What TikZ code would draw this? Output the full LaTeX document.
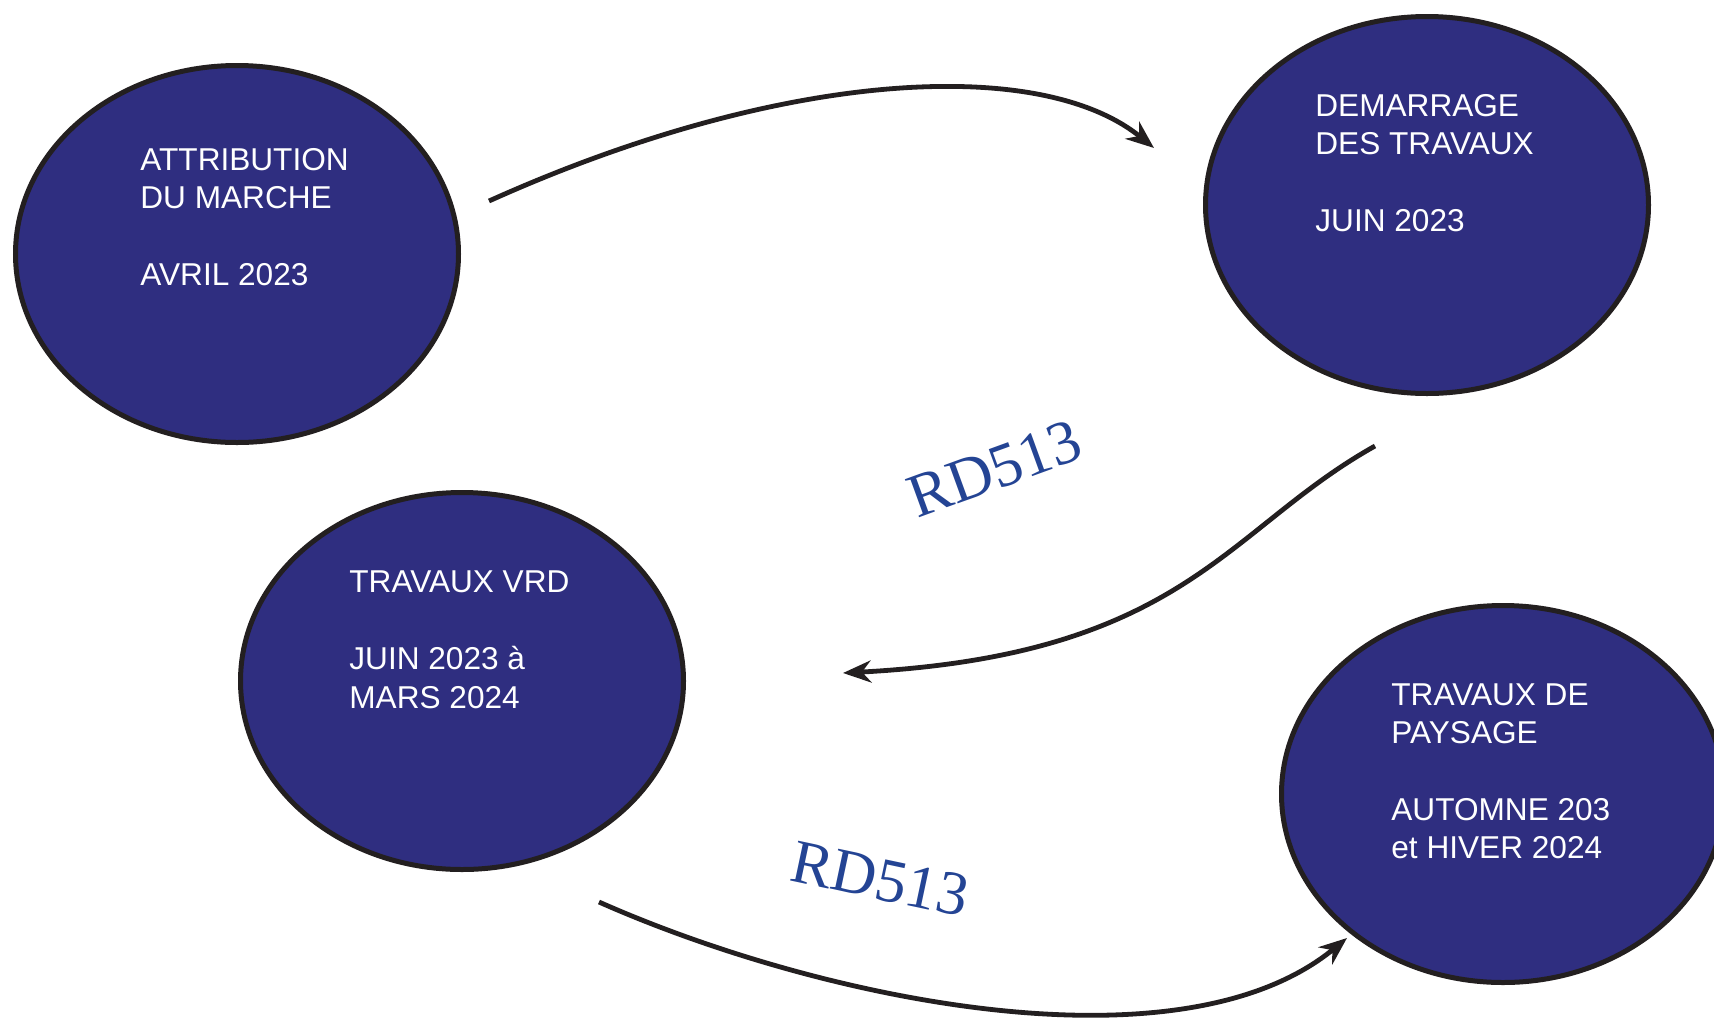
\documentclass[tikz,border=0pt]{standalone}
\usepackage{fontspec}
\setmainfont{Liberation Sans}
\newfontfamily\rdfont{Liberation Serif}
\usetikzlibrary{shapes.geometric,arrows.meta}
\definecolor{bubblefill}{RGB}{47,46,128}
\definecolor{edgeblack}{RGB}{35,31,32}
\definecolor{rdblue}{RGB}{36,68,148}
\begin{document}
\begin{tikzpicture}[x=0.5pt,y=-0.5pt,
  bubble/.style={ellipse,draw=edgeblack,line width=2.5pt,fill=bubblefill,
    minimum width=221.5pt,minimum height=188.5pt,inner sep=0pt},
  txt/.style={anchor=base west,inner sep=0pt,text=white,
    font=\fontsize{15.8pt}{19pt}\selectfont},
  rd/.style={text=rdblue,font=\rdfont\fontsize{31pt}{31pt}\selectfont,inner sep=0pt},
  flow/.style={draw=edgeblack,line width=2.4pt,
    -{Stealth[length=14pt,width=11pt,inset=4.5pt]}}]
\useasboundingbox (0,0) rectangle (1714,1024);
\clip (0,0) rectangle (1714,1024);
\fill[white] (0,0) rectangle (1714,1024);

% bubbles
\node[bubble] (e1) at (237,254) {};
\node[bubble] (e2) at (1427,205) {};
\node[bubble] (e3) at (462,681) {};
\node[bubble] (e4) at (1503,794) {};

% texts
\node[txt] (t1a) at (140,170) {ATTRIBUTION};
\node[txt] (t1b) at (140,208) {DU MARCHE};
\node[txt] (t1c) at (140,285) {AVRIL 2023};

\node[txt] (t2a) at (1315,116) {DEMARRAGE};
\node[txt] (t2b) at (1315,154) {DES TRAVAUX};
\node[txt] (t2c) at (1315,231) {JUIN 2023};

\node[txt] (t3a) at (349,592) {TRAVAUX VRD};
\node[txt] (t3b) at (349,669) {JUIN 2023 à};
\node[txt] (t3c) at (349,708) {MARS 2024};

\node[txt] (t4a) at (1391,705) {TRAVAUX DE};
\node[txt] (t4b) at (1391,743) {PAYSAGE};
\node[txt] (t4c) at (1391,820) {AUTOMNE 203};
\node[txt] (t4d) at (1391,858) {et HIVER 2024};

% road labels
\node[rd,rotate=20] (rd1) at (995,469) {RD513};
\node[rd,rotate=-12] (rd2) at (880,879) {RD513};

% connectors
\coordinate (a1s) at (489,201);
\coordinate (a1e) at (1154,148);
\coordinate (a2s) at (1375,446);
\coordinate (a2e) at (843,673);
\coordinate (a3s) at (599,902);
\coordinate (a3e) at (1347,938);
\draw[flow] (a1s) .. controls (780,70) and (1040,55) .. (a1e);
\draw[flow] (a2s) .. controls (1225,530) and (1185,655) .. (a2e);
\draw[flow] (a3s) .. controls (820,1000) and (1180,1075) .. (a3e);
\end{tikzpicture}
\end{document}
